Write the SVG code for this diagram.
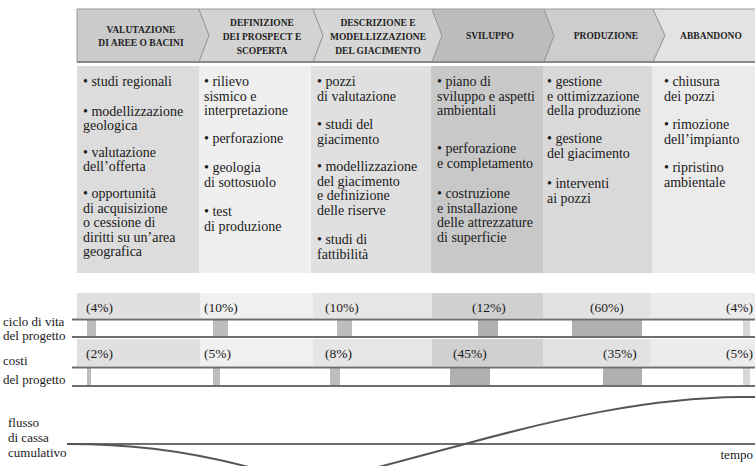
<svg xmlns="http://www.w3.org/2000/svg" width="755" height="466" viewBox="0 0 755 466">
<style>
.hd{font-family:"Liberation Serif",serif;font-weight:bold;font-size:9.5px;fill:#222;text-anchor:middle}
.bd{font-family:"Liberation Serif",serif;font-size:14px;fill:#1a1a1a}
.lb{font-family:"Liberation Serif",serif;font-size:13px;fill:#1a1a1a}
.pc{font-family:"Liberation Serif",serif;font-size:13.5px;fill:#1a1a1a}
.hs{stroke:#999;stroke-width:1}
.ln{stroke:#6e6e6e;stroke-width:2}
.bar{fill:#bdbdbd}
.barD{fill:#b0b0b0}
.barL{fill:#d9d9d9}
</style>
<rect width="755" height="466" fill="#ffffff"/>

<!-- phases -->
<g id="phase1">
<polygon class="hs" points="77,9 199,9 209,35.5 199,62 77,62" fill="#cbcbcb"/>
<rect x="77" y="66" width="122" height="207" fill="#dcdcdc"/>
<text class="hd"><tspan x="141" y="33">VALUTAZIONE</tspan><tspan x="141" y="46">DI AREE O BACINI</tspan></text>
<text class="bd"><tspan x="83" y="86">• studi regionali</tspan><tspan x="83" y="116">• modellizzazione</tspan><tspan x="83" y="130">geologica</tspan><tspan x="83" y="157">• valutazione</tspan><tspan x="83" y="171">dell’offerta</tspan><tspan x="83" y="198">• opportunità</tspan><tspan x="83" y="212.5">di acquisizione</tspan><tspan x="83" y="227">o cessione di</tspan><tspan x="83" y="241.5">diritti su un’area</tspan><tspan x="83" y="256">geografica</tspan></text>
</g>
<g id="phase2">
<polygon class="hs" points="199,9 313,9 323,35.5 313,62 199,62 209,35.5" fill="#d3d3d3"/>
<rect x="199" y="66" width="112" height="207" fill="#efefef"/>
<text class="hd"><tspan x="262" y="26">DEFINIZIONE</tspan><tspan x="262" y="40">DEI PROSPECT E</tspan><tspan x="262" y="54">SCOPERTA</tspan></text>
<text class="bd"><tspan x="204" y="86">• rilievo</tspan><tspan x="204" y="100.5">sismico e</tspan><tspan x="204" y="115">interpretazione</tspan><tspan x="204" y="143">• perforazione</tspan><tspan x="204" y="172">• geologia</tspan><tspan x="204" y="186.5">di sottosuolo</tspan><tspan x="204" y="216">• test</tspan><tspan x="204" y="230.5">di produzione</tspan></text>
</g>
<g id="phase3">
<polygon class="hs" points="313,9 432,9 442,35.5 432,62 313,62 323,35.5" fill="#d6d6d6"/>
<rect x="311" y="66" width="120" height="207" fill="#e0e0e0"/>
<text class="hd"><tspan x="378" y="26">DESCRIZIONE E</tspan><tspan x="378" y="40">MODELLIZZAZIONE</tspan><tspan x="378" y="54">DEL GIACIMENTO</tspan></text>
<text class="bd"><tspan x="317" y="86">• pozzi</tspan><tspan x="317" y="100.5">di valutazione</tspan><tspan x="317" y="129">• studi del</tspan><tspan x="317" y="143.5">giacimento</tspan><tspan x="317" y="171">• modellizzazione</tspan><tspan x="317" y="185.5">del giacimento</tspan><tspan x="317" y="200">e definizione</tspan><tspan x="317" y="214.5">delle riserve</tspan><tspan x="317" y="244">• studi di</tspan><tspan x="317" y="258.5">fattibilità</tspan></text>
</g>
<g id="phase4">
<polygon class="hs" points="432,9 544,9 554,35.5 544,62 432,62 442,35.5" fill="#bdbdbd"/>
<rect x="431" y="66" width="112" height="207" fill="#c8c8c8"/>
<text class="hd"><tspan x="490" y="39">SVILUPPO</tspan></text>
<text class="bd"><tspan x="437" y="86">• piano di</tspan><tspan x="437" y="100.5">sviluppo e aspetti</tspan><tspan x="437" y="115">ambientali</tspan><tspan x="437" y="153">• perforazione</tspan><tspan x="437" y="167.5">e completamento</tspan><tspan x="437" y="198">• costruzione</tspan><tspan x="437" y="212.5">e installazione</tspan><tspan x="437" y="227">delle attrezzature</tspan><tspan x="437" y="241.5">di superficie</tspan></text>
</g>
<g id="phase5">
<polygon class="hs" points="544,9 653,9 665,35.5 653,62 544,62 554,35.5" fill="#cdcdcd"/>
<rect x="543" y="66" width="109" height="207" fill="#d9d9d9"/>
<text class="hd"><tspan x="606" y="39">PRODUZIONE</tspan></text>
<text class="bd"><tspan x="547" y="86">• gestione</tspan><tspan x="547" y="100.5">e ottimizzazione</tspan><tspan x="547" y="115">della produzione</tspan><tspan x="547" y="143">• gestione</tspan><tspan x="547" y="157.5">del giacimento</tspan><tspan x="547" y="188">• interventi</tspan><tspan x="547" y="202.5">ai pozzi</tspan></text>
</g>
<g id="phase6">
<polygon class="hs" points="653,9 756,9 756,62 653,62 665,35.5" fill="#e3e3e3"/>
<rect x="652" y="66" width="103" height="207" fill="#ebebeb"/>
<text class="hd"><tspan x="711" y="39">ABBANDONO</tspan></text>
<text class="bd"><tspan x="664" y="86">• chiusura</tspan><tspan x="664" y="100.5">dei pozzi</tspan><tspan x="664" y="129">• rimozione</tspan><tspan x="664" y="143.5">dell’impianto</tspan><tspan x="664" y="172">• ripristino</tspan><tspan x="664" y="186.5">ambientale</tspan></text>
</g>
<line x1="77" y1="62" x2="755" y2="62" stroke="#888" stroke-width="2"/>

<!-- life cycle band -->
<g id="lifecycle">
<rect x="77" y="293" width="123" height="25" fill="#e0e0e0"/>
<rect x="200" y="293" width="113" height="25" fill="#f0f0f0"/>
<rect x="313" y="293" width="119" height="25" fill="#e6e6e6"/>
<rect x="432" y="293" width="111" height="25" fill="#d0d0d0"/>
<rect x="543" y="293" width="107" height="25" fill="#e2e2e2"/>
<rect x="650" y="293" width="105" height="25" fill="#ececec"/>
<rect class="bar" x="87" y="320" width="9" height="16"/>
<rect class="bar" x="213" y="320" width="15" height="16"/>
<rect class="bar" x="337" y="320" width="15" height="16"/>
<rect class="barD" x="478" y="320" width="20" height="16"/>
<rect class="barD" x="572" y="320" width="70" height="16"/>
<rect class="barL" x="743" y="320" width="7" height="16"/>
<text class="pc" x="86" y="312">(4%)</text>
<text class="pc" x="204" y="312">(10%)</text>
<text class="pc" x="325" y="312">(10%)</text>
<text class="pc" x="472" y="312">(12%)</text>
<text class="pc" x="590" y="312">(60%)</text>
<text class="pc" x="753" y="312" text-anchor="end">(4%)</text>
<text class="lb"><tspan x="3" y="326">ciclo di vita</tspan><tspan x="3" y="340">del progetto</tspan></text>
</g>

<!-- costs band -->
<g id="costs">
<rect x="77" y="339" width="123" height="27" fill="#e0e0e0"/>
<rect x="200" y="339" width="113" height="27" fill="#f0f0f0"/>
<rect x="313" y="339" width="119" height="27" fill="#e6e6e6"/>
<rect x="432" y="339" width="111" height="27" fill="#d0d0d0"/>
<rect x="543" y="339" width="107" height="27" fill="#e2e2e2"/>
<rect x="650" y="339" width="105" height="27" fill="#ececec"/>
<rect class="bar" x="87" y="368" width="4" height="18"/>
<rect class="bar" x="213" y="368" width="7" height="18"/>
<rect class="bar" x="330" y="368" width="10" height="18"/>
<rect class="barD" x="450" y="368" width="40" height="18"/>
<rect class="barD" x="603" y="368" width="39" height="18"/>
<rect class="barL" x="743" y="368" width="7" height="18"/>
<text class="pc" x="86" y="358">(2%)</text>
<text class="pc" x="204" y="358">(5%)</text>
<text class="pc" x="325" y="358">(8%)</text>
<text class="pc" x="453" y="358">(45%)</text>
<text class="pc" x="603" y="358">(35%)</text>
<text class="pc" x="753" y="358" text-anchor="end">(5%)</text>
<text class="lb"><tspan x="3" y="365">costi</tspan><tspan x="3" y="384">del progetto</tspan></text>
</g>

<g id="connectors">
<line class="ln" x1="72" y1="319.5" x2="755" y2="319.5"/>
<line class="ln" x1="72" y1="337" x2="755" y2="337"/>
<line class="ln" x1="72" y1="367.5" x2="755" y2="367.5"/>
<line class="ln" x1="72" y1="386" x2="755" y2="386"/>
<line class="ln" x1="67" y1="444" x2="755" y2="444"/>
<path d="M67 444 C120 444 180 448 260 470 Q310 484 360 472 L465 444 C560 418 650 398 740 397 L755 397" fill="none" stroke="#555" stroke-width="2"/>
</g>

<g id="cashflow">
<text class="lb"><tspan x="8" y="427">flusso</tspan><tspan x="8" y="442">di cassa</tspan><tspan x="8" y="457">cumulativo</tspan></text>
<text class="lb" x="753" y="459" text-anchor="end">tempo</text>
</g>
</svg>
